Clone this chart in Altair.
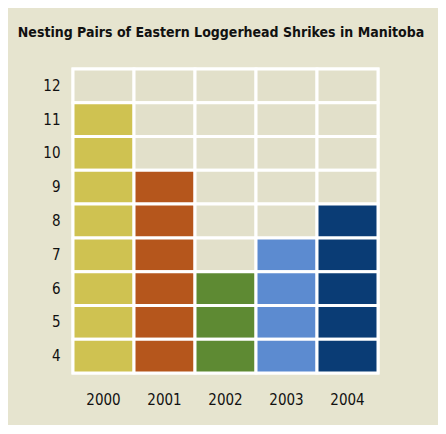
import altair as alt
import pandas as pd

years = ["2000", "2001", "2002", "2003", "2004"]
pairs = [11, 9, 6, 7, 8]
levels = [12, 11, 10, 9, 8, 7, 6, 5, 4]
year_colors = ["#CFC251", "#B5561C", "#5E8A33", "#5C8BD0", "#0A3C75"]
empty_color = "#E2E0CA"
bg = "#E6E4CF"
FONT = "DejaVu Sans Condensed, Liberation Sans Narrow, sans-serif"

rows = []
for y, p in zip(years, pairs):
    for lv in levels:
        rows.append({"year": y, "level": str(lv), "group": y if lv <= p else "empty"})
df = pd.DataFrame(rows)

chart = alt.Chart(df).mark_rect(stroke="white", strokeWidth=3).encode(
    x=alt.X("year:O", sort=years, title=None,
            scale=alt.Scale(paddingInner=0, paddingOuter=0),
            axis=alt.Axis(orient="bottom", labelAngle=0, ticks=False, domain=False,
                          labelPadding=19, labelFontSize=15, labelColor="#111",
                          labelFont=FONT)),
    y=alt.Y("level:O", sort=[str(v) for v in levels], title=None,
            scale=alt.Scale(paddingInner=0, paddingOuter=0),
            axis=alt.Axis(ticks=False, domain=False, labelPadding=13,
                          labelFontSize=15, labelColor="#111",
                          labelFont=FONT)),
    color=alt.Color("group:N", legend=None,
                    scale=alt.Scale(domain=years + ["empty"],
                                    range=year_colors + [empty_color])),
).properties(
    width=305,
    height=304,
    padding={"left": 65, "top": 61, "right": 60, "bottom": 52},
    autosize=alt.AutoSizeParams(type="none"),
    background=bg,
    title=alt.Title("Nesting Pairs of Eastern Loggerhead Shrikes in Manitoba",
                    anchor="start", dx=-25, offset=17, baseline="alphabetic",
                    font=FONT, fontSize=14, fontWeight="bold",
                    color="#111"),
).configure_view(stroke="white", strokeWidth=3)

chart.save("out.html", embed_options={"renderer": "svg", "actions": False})
